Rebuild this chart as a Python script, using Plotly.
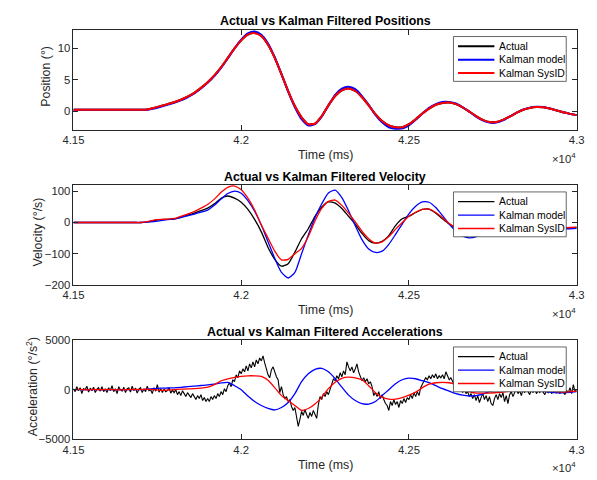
import plotly.graph_objects as go

# ---------------- data ----------------
T_START, T_STOP = 41500, 43000
t20 = list(range(41500, 43001, 20))   # 76 samples, 20 ms grid
t5 = list(range(41500, 43001, 5))     # 301 samples, 5 ms grid

pos_actual = [0.2]*11 + [0.25, 0.5, 0.8, 1.1, 1.4, 1.8, 2.3, 2.9, 3.7, 4.6, 5.7, 7.0, 8.5, 10.0, 11.3, 12.2, 12.5,
              12.0, 10.6, 8.5, 5.9, 3.2, 0.8, -1.0, -2.1, -2.0, -0.8, 0.9, 2.4, 3.3, 3.6, 3.2, 2.2, 0.9, -0.5,
              -1.6, -2.3, -2.6, -2.6, -2.1, -1.3, -0.4, 0.4, 1.0, 1.3, 1.35, 1.1, 0.6, -0.1, -0.8, -1.4, -1.75,
              -1.75, -1.4, -0.9, -0.3, 0.2, 0.5, 0.65, 0.6, 0.4, 0.1, -0.2, -0.45, -0.65]
pos_model = [0.2]*11 + [0.22, 0.4, 0.7, 1.0, 1.3, 1.7, 2.2, 2.8, 3.6, 4.5, 5.6, 6.9, 8.4, 10.0, 11.4, 12.4, 12.7,
             12.2, 10.8, 8.6, 5.9, 3.1, 0.6, -1.3, -2.3, -2.1, -0.9, 0.9, 2.6, 3.6, 3.9, 3.5, 2.4, 1.0, -0.6,
             -1.8, -2.6, -2.85, -2.8, -2.3, -1.4, -0.4, 0.5, 1.1, 1.45, 1.45, 1.2, 0.6, -0.1, -0.9, -1.5, -1.85,
             -1.85, -1.5, -0.9, -0.3, 0.2, 0.55, 0.7, 0.65, 0.4, 0.1, -0.2, -0.45, -0.65]
pos_sysid = [0.2]*11 + [0.25, 0.5, 0.8, 1.1, 1.4, 1.8, 2.3, 2.9, 3.7, 4.6, 5.7, 7.0, 8.5, 10.0, 11.3, 12.2, 12.45,
             12.0, 10.6, 8.5, 5.9, 3.2, 0.8, -1.0, -2.1, -2.0, -0.8, 0.9, 2.4, 3.3, 3.6, 3.2, 2.2, 0.9, -0.5,
             -1.6, -2.3, -2.6, -2.6, -2.1, -1.3, -0.4, 0.4, 1.0, 1.3, 1.35, 1.1, 0.6, -0.1, -0.8, -1.4, -1.75,
             -1.75, -1.4, -0.9, -0.3, 0.2, 0.5, 0.65, 0.6, 0.4, 0.1, -0.2, -0.45, -0.65]

vel_actual = [0]*11 + [2, 6, 9, 10, 11, 17, 24, 30, 38, 46, 60, 78, 85, 78, 65, 42, 10, -30, -80, -118, -140, -132,
              -95, -52, -20, 20, 50, 66, 62, 45, 20, -5, -35, -58, -66, -60, -42, -10, 12, 20, 32, 42, 43, 30, 12,
              -5, -18, -28, -33, -32, -22, -8, 6, 16, 22, 20, 12, 2, -8, -15, -20, -22, -20, -18, -16]
vel_model = [0]*11 + [1, 3, 6, 9, 12, 16, 21, 27, 33, 40, 55, 75, 93, 101, 94, 70, 36, -8, -62, -115, -160, -178,
             -160, -100, -40, 15, 60, 95, 104, 80, 38, -10, -55, -85, -96, -92, -70, -38, -5, 28, 52, 66, 65, 48,
             22, -5, -28, -43, -49, -45, -32, -14, 4, 18, 26, 26, 18, 6, -6, -15, -20, -22, -21, -20, -19]
vel_sysid = [0]*11 + [3, 8, 10, 11, 13, 20, 27, 35, 46, 58, 75, 97, 113, 117, 105, 78, 40, -8, -50, -92, -120, -118,
             -100, -83, -45, 5, 45, 68, 72, 55, 30, 2, -28, -52, -66, -62, -45, -22, 0, 20, 33, 42, 43, 32, 15,
             -3, -17, -27, -31, -29, -20, -7, 6, 15, 20, 18, 11, 2, -7, -13, -17, -18, -17, -16, -15]

acc_actual = [
    100, -200, 300, -100, 200, -400, 100, 0, 350, -250, 150, -100, 250, -300, 50, 200, -150, 300, -200, 100,
    -300, 200, -100, 400, -200, 100, -400, 300, 0, -150, 250, -300, 100, 200, -250, 350, -100, 150, -350, 50,
    200, -300, 100, -200, 350, -100, 0, -400, 200, -150, 500, -250, 100, -300, 50, -200, -100, 200, -350, -50,
    -300, 0, -500, -200, -600, -100, -400, -700, -300, -500, -800, -400, -700, -1000, -600, -900, -500, -1100, -800, -1200,
    -900, -1200, -700, -1000, -600, -900, -400, -700, -200, -500, 100, -200, 400, 700, 300, 1000, 800, 1500, 1200, 1900,
    1600, 2100, 1800, 2400, 1900, 2600, 2200, 2800, 2300, 3000, 2600, 3200, 2900, 3400, 2700, 2000, 1500, 1200, 2000, 2300,
    1700, 1300, 1000, -300, 300, -500, -900, -700, -1200, -1000, -1700, -2100, -1800, -2800, -3700, -3000, -2200, -2600, -2000, -2500,
    -2900, -2300, -2700, -2100, -2600, -2900, -1500, -700, -1000, -400, -700, -200, -500, 100, 500, 1100, 900, 1400, 1100, 1700,
    1300, 1900, 1500, 2800, 2300, 1900, 2300, 1700, 2100, 2600, 1800, 1300, 900, 1200, 800, 1100, 600, 800, 300, -600,
    -300, -700, -200, -900, -500, -1000, -1400, -1600, -2100, -1200, -1600, -1000, -1500, -1200, -1800, -1100, -1400, -900, -1300, -800,
    -1000, -500, -900, -300, -700, -200, -600, 200, 600, 900, 1200, 1000, 1400, 1100, 1500, 1200, 1600, 1100, 1400, 1200,
    1500, 1100, 1800, 1300, 1000, 1200, 800, 500, 700, 200, 400, 0, -300, 100, -400, -200, -700, -400, -900, -500,
    -1100, -600, -1300, -800, -400, -1000, -600, -1200, -700, -1400, -1600, -900, -500, -1000, -400, -800, -300, -1200, -600, -1400,
    -500, -200, -700, -300, 100, -400, -100, -600, 0, -300, 200, -200, -500, 0, -300, 100, -400, -100, -300, 0,
    -200, -500, -100, -300, 100, -400, -200, 0, -300, -100, -400, 0, -200, -500, -100, -300, 200, -400, 500, -200,
    0]
acc_model = [0]*11 + [50, 100, 150, 170, 190, 240, 300, 360, 420, 480, 560, 680, 740, 400, 0, -650, -1200, -1600,
             -1900, -2050, -1800, -1300, -400, 800, 1600, 2050, 2150, 1800, 1100, 250, -550, -1100, -1420, -1450,
             -1200, -600, 0, 600, 1000, 1160, 1100, 900, 700, 400, 100, -150, -400, -560, -640, -600, -450, -200,
             50, 250, 350, 380, 300, 150, 0, -150, -250, -320, -330, -280, -200]
acc_sysid = [0, 30, -20, 20, -10, 20, 0, -20, 10, 30, 0, 50, 0, -60, -50, 0, 50, 80, 100, 150, 250, 500, 900, 1100,
             1250, 1350, 1400, 1400, 1350, 950, 200, -600, -1100, -1600, -2100, -1900, -1450, -750, 100, 750, 1150,
             1260, 1200, 1000, 400, -300, -750, -950, -950, -800, -550, -250, 200, 550, 700, 740, 700, 550, 200,
             -200, -350, -350, -350, -300, -250, -150, 0, 100, 150, 100, 0, -100, -200, -250, -200, -150]

series_names = ["Actual", "Kalman model", "Kalman SysID"]
x_tickvals = [41500, 42000, 42500, 43000]
x_ticktext = ["4.15", "4.2", "4.25", "4.3"]
titles = ["Actual vs Kalman Filtered Positions", "Actual vs Kalman Filtered Velocity",
          "Actual vs Kalman Filtered Accelerations"]
ylabels = ["Position (°)", "Velocity (°/s)", "Acceleration (°/s<sup>2</sup>)"]
y_ranges = [[-3, 13], [-200, 120], [-5000, 5000]]
y_tickvals = [[0, 5, 10], [-200, -100, 0, 100], [-5000, 0, 5000]]

# ---------------- layout geometry ----------------
W, H = 597, 480
FONT = "Liberation Sans, Arial, Helvetica, sans-serif"
TXT = "#262626"
left_px, right_px = 64.5, 584.3
axes_px = [(24.3, 127.0), (183.7, 286.0), (342.7, 444.3)]  # (top, bottom)
ylabel_cy = [72, 232, 391]
ylabel_cx = [36.7, 28.3, 21.7]
leg_left, leg_right, leg_h = 457.0, 573.5, 46.0
leg_row = [10.0, 23.7, 37.5]
leg_line = (461.7, 499.3)
leg_text_x = 502.3


def px_x(p):
    return p / W


def px_y(p):
    return 1 - p / H


colors = ["#000000", "#0000ff", "#ff0000"]
widths = [[2, 2, 2], [1.3, 1.3, 1.3], [1.1, 1.3, 1.3]]

fig = go.Figure()
data_sets = [
    ([t20, t20, t20], [pos_actual, pos_model, pos_sysid], ["spline", "spline", "spline"]),
    ([t20, t20, t20], [vel_actual, vel_model, vel_sysid], ["spline", "spline", "spline"]),
    ([t5, t20, t20], [acc_actual, acc_model, acc_sysid], ["linear", "spline", "spline"]),
]
for i, (ts, ys, shapes_) in enumerate(data_sets):
    for j, y in enumerate(ys):
        fig.add_trace(go.Scatter(
            x=ts[j], y=y, mode="lines", name=series_names[j], showlegend=False,
            line=dict(color=colors[j], width=widths[i][j], shape=shapes_[j], smoothing=0.6),
            xaxis="x" if i == 0 else f"x{i+1}", yaxis="y" if i == 0 else f"y{i+1}",
        ))

axis_common = dict(showline=True, linecolor=TXT, linewidth=0.8, mirror="ticks", ticks="inside",
                   ticklen=5, tickwidth=0.8, tickcolor=TXT, showgrid=False, zeroline=False,
                   tickfont=dict(family=FONT, size=11.3, color=TXT))

layout = dict(width=W, height=H, margin=dict(l=0, r=0, t=0, b=0),
              paper_bgcolor="white", plot_bgcolor="white", showlegend=False)
annotations = []
shapes = []
for i in range(3):
    top, bot = axes_px[i]
    xk = "xaxis" if i == 0 else f"xaxis{i+1}"
    yk = "yaxis" if i == 0 else f"yaxis{i+1}"
    xa = "x" if i == 0 else f"x{i+1}"
    ya = "y" if i == 0 else f"y{i+1}"
    layout[xk] = dict(axis_common, domain=[px_x(left_px), px_x(right_px)], range=[T_START, T_STOP],
                      tickvals=x_tickvals, ticktext=x_ticktext, anchor=ya)
    layout[yk] = dict(axis_common, domain=[px_y(bot), px_y(top)], range=y_ranges[i],
                      tickvals=y_tickvals[i], anchor=xa)
    cx = px_x((left_px + right_px) / 2)
    annotations.append(dict(text=f"<b>{titles[i]}</b>", x=cx, y=px_y(top - 8.5), xref="paper", yref="paper",
                            showarrow=False, xanchor="center", yanchor="middle",
                            font=dict(family=FONT, size=12.4, color="#000")))
    annotations.append(dict(text="Time (ms)", x=cx, y=px_y(bot + 26), xref="paper", yref="paper",
                            showarrow=False, xanchor="center", yanchor="middle",
                            font=dict(family=FONT, size=12.4, color=TXT)))
    annotations.append(dict(text="×10<sup>4</sup>", x=px_x(right_px + 1), y=px_y(bot + 29), xref="paper",
                            yref="paper", showarrow=False, xanchor="right", yanchor="middle",
                            font=dict(family=FONT, size=11.3, color=TXT)))
    annotations.append(dict(text=ylabels[i], x=px_x(ylabel_cx[i]), y=px_y(ylabel_cy[i]), xref="paper",
                            yref="paper", showarrow=False, xanchor="center", yanchor="middle", textangle=-90,
                            font=dict(family=FONT, size=12.4, color=TXT)))
    # legend box (drawn by hand to match the compact MATLAB legend)
    ltop = top + 7.0
    shapes.append(dict(type="rect", xref="paper", yref="paper", layer="above",
                       x0=px_x(leg_left), x1=px_x(leg_right), y0=px_y(ltop + leg_h), y1=px_y(ltop),
                       fillcolor="white", line=dict(color=TXT, width=0.7)))
    for j in range(3):
        yy = px_y(ltop + leg_row[j])
        shapes.append(dict(type="line", xref="paper", yref="paper", layer="above",
                           x0=px_x(leg_line[0]), x1=px_x(leg_line[1]), y0=yy, y1=yy,
                           line=dict(color=colors[j], width=widths[i][j] if i == 0 else 1.3)))
        annotations.append(dict(text=series_names[j], x=px_x(leg_text_x), y=yy, xref="paper", yref="paper",
                                showarrow=False, xanchor="left", yanchor="middle",
                                font=dict(family=FONT, size=10.4, color="#000")))
layout["annotations"] = annotations
layout["shapes"] = shapes
fig.update_layout(**layout)
fig.write_html("out.html")
